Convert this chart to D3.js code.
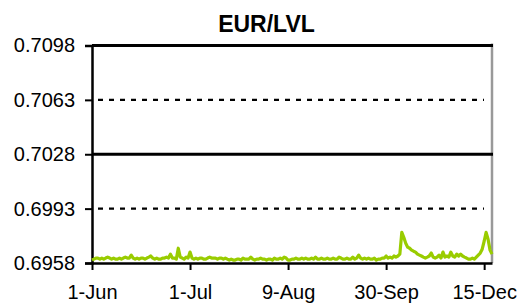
<!DOCTYPE html>
<html><head><meta charset="utf-8">
<script src="https://cdn.jsdelivr.net/npm/d3@7"></script>
<style>body{margin:0;background:#fff}svg{display:block}text{font-family:"Liberation Sans",Arial,sans-serif}</style>
</head><body>
<svg id="c" width="528" height="304"></svg>
<script>
const title = "EUR/LVL";
const values = [
0.69599,0.69605,0.69612,0.69612,0.69605,0.69612,0.69605,0.69612,0.69618,0.69612,
0.69605,0.69612,0.69605,0.69605,0.69612,0.69605,0.69612,0.69618,0.69612,0.69612,
0.69631,0.69612,0.69605,0.69612,0.69605,0.69612,0.69612,0.69605,0.69612,0.69618,
0.69625,0.69612,0.69605,0.69612,0.69605,0.69605,0.69612,0.69612,0.69618,0.69612,
0.69637,0.69612,0.69612,0.69605,0.69675,0.69618,0.69612,0.69605,0.69618,0.69612,
0.69650,0.69612,0.69605,0.69612,0.69605,0.69612,0.69612,0.69605,0.69605,0.69612,
0.69618,0.69612,0.69612,0.69612,0.69605,0.69612,0.69612,0.69605,0.69612,0.69605,
0.69599,0.69605,0.69599,0.69599,0.69605,0.69605,0.69599,0.69612,0.69605,0.69605,
0.69605,0.69618,0.69605,0.69599,0.69605,0.69605,0.69612,0.69605,0.69605,0.69599,
0.69605,0.69605,0.69599,0.69612,0.69605,0.69605,0.69612,0.69605,0.69618,0.69612,
0.69599,0.69599,0.69605,0.69605,0.69612,0.69605,0.69605,0.69612,0.69605,0.69612,
0.69605,0.69605,0.69612,0.69605,0.69618,0.69605,0.69605,0.69612,0.69605,0.69605,
0.69612,0.69605,0.69605,0.69612,0.69605,0.69605,0.69618,0.69612,0.69605,0.69605,
0.69612,0.69605,0.69605,0.69618,0.69605,0.69612,0.69631,0.69612,0.69605,0.69612,
0.69605,0.69612,0.69605,0.69605,0.69612,0.69599,0.69605,0.69605,0.69612,0.69612,
0.69625,0.69612,0.69618,0.69612,0.69625,0.69618,0.69625,0.69637,0.69777,0.69745,
0.69707,0.69682,0.69675,0.69663,0.69656,0.69650,0.69637,0.69631,0.69625,0.69618,
0.69612,0.69618,0.69625,0.69644,0.69618,0.69612,0.69618,0.69631,0.69612,0.69650,
0.69618,0.69625,0.69618,0.69650,0.69625,0.69618,0.69637,0.69625,0.69637,0.69625,
0.69618,0.69612,0.69605,0.69605,0.69612,0.69605,0.69618,0.69631,0.69644,0.69669,
0.69720,0.69777,0.69733,0.69663,0.69637
];
const xTickIndex = [0, 50, 100, 150, 200];
const xTickLabels = ["1-Jun", "1-Jul", "9-Aug", "30-Sep", "15-Dec"];
const yTicks = [0.6958, 0.6993, 0.7028, 0.7063, 0.7098];
const solidLevels = [0.7098, 0.7028];
const dashedLevels = [0.7063, 0.6993];

const svg = d3.select("#c");
const L = 92, R = 492, T = 45.5, B = 263;
const x = d3.scaleLinear().domain([0, values.length - 1]).range([L, R]);
const y = d3.scaleLinear().domain([0.6958, 0.7098]).range([B, T]);

svg.append("text").attr("x", 266.5).attr("y", 31.5).attr("text-anchor", "middle")
  .style("font-size", "23px").style("font-weight", "bold").text(title);

svg.append("line").attr("x1", R).attr("x2", R).attr("y1", T - 2).attr("y2", B)
  .attr("stroke", "#999").attr("stroke-width", 2.5);

svg.selectAll(".dl").data(dashedLevels).enter().append("line")
  .attr("x1", L + 6).attr("x2", R - 8).attr("y1", d => y(d)).attr("y2", d => y(d))
  .attr("stroke", "#000").attr("stroke-width", 2.2).attr("stroke-dasharray", "5,6");

svg.selectAll(".sl").data(solidLevels).enter().append("line")
  .attr("x1", L).attr("x2", R + 1).attr("y1", d => y(d)).attr("y2", d => y(d))
  .attr("stroke", "#000").attr("stroke-width", 3.2);

const yAxis = d3.axisLeft(y).tickValues(yTicks).tickFormat(d3.format(".4f")).tickSize(7).tickPadding(10);
const gy = svg.append("g").attr("transform", `translate(${L},0)`).call(yAxis);
gy.select(".domain").attr("stroke-width", 2.5);
gy.selectAll(".tick line").attr("stroke-width", 2);
gy.selectAll("text").style("font-size", "20px").attr("fill", "#000");

const xAxis = d3.axisBottom(x).tickValues(xTickIndex).tickFormat((d, i) => xTickLabels[i]).tickSize(7).tickPadding(15).tickSizeOuter(0);
const gx = svg.append("g").attr("transform", `translate(0,${B})`).call(xAxis);
gx.select(".domain").attr("stroke-width", 2.5);
gx.selectAll(".tick line").attr("stroke-width", 2);
gx.selectAll("text").style("font-size", "20px").attr("fill", "#000");

svg.append("path").datum(values)
  .attr("d", d3.line().x((d, i) => x(i)).y(d => y(d)))
  .attr("fill", "none").attr("stroke", "#99cc00").attr("stroke-width", 3.2).attr("stroke-linejoin", "round");
</script>
</body></html>
